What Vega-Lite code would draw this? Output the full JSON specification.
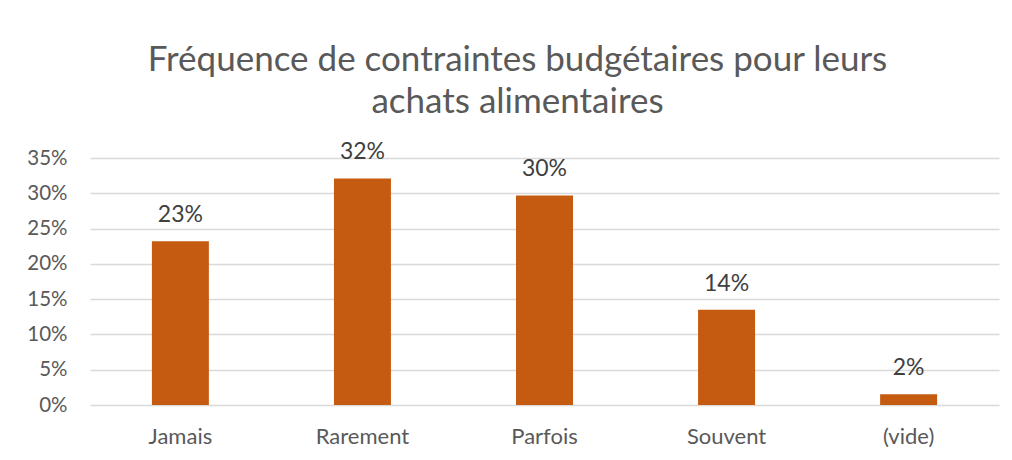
{
  "$schema": "https://vega.github.io/schema/vega-lite/v6.json",
  "width": 909,
  "height": 247,
  "autosize": "none",
  "padding": {"left": 90, "top": 158, "right": 13, "bottom": 55},
  "background": "white",
  "title": {
    "text": ["Fréquence de contraintes budgétaires pour leurs", "achats alimentaires"],
    "font": "Lato",
    "fontSize": 35,
    "fontWeight": "normal",
    "color": "#595959",
    "anchor": "middle",
    "lineHeight": 42,
    "baseline": "alphabetic",
    "offset": 45,
    "dx": -27,
    "dy": 52
  },
  "data": {
    "values": [
      {"categorie": "Jamais", "part": 0.232},
      {"categorie": "Rarement", "part": 0.321},
      {"categorie": "Parfois", "part": 0.297},
      {"categorie": "Souvent", "part": 0.135},
      {"categorie": "(vide)", "part": 0.0152}
    ]
  },
  "encoding": {
    "x": {
      "field": "categorie",
      "type": "nominal",
      "sort": null,
      "scale": {"paddingInner": 0.687, "paddingOuter": 0.34},
      "axis": {
        "title": null,
        "labelAngle": 0,
        "domain": false,
        "ticks": false,
        "labelFont": "Lato",
        "labelFontSize": 22,
        "labelColor": "#595959",
        "labelPadding": 21
      }
    },
    "y": {
      "field": "part",
      "type": "quantitative",
      "scale": {"domain": [0, 0.35]},
      "axis": {
        "title": null,
        "values": [0, 0.05, 0.1, 0.15, 0.2, 0.25, 0.3, 0.35],
        "format": ".0%",
        "domain": false,
        "ticks": false,
        "grid": true,
        "gridColor": "#d9d9d9",
        "gridWidth": 1.5,
        "labelFont": "Lato",
        "labelFontSize": 20.5,
        "labelColor": "#595959",
        "labelPadding": 23
      }
    }
  },
  "layer": [
    {"mark": {"type": "bar", "color": "#C55A11"}},
    {
      "mark": {"type": "text", "font": "Lato", "fontSize": 23, "color": "#404040", "baseline": "alphabetic", "dy": -19},
      "encoding": {"text": {"field": "part", "type": "quantitative", "format": ".0%"}}
    }
  ],
  "config": {"view": {"stroke": null}}
}
